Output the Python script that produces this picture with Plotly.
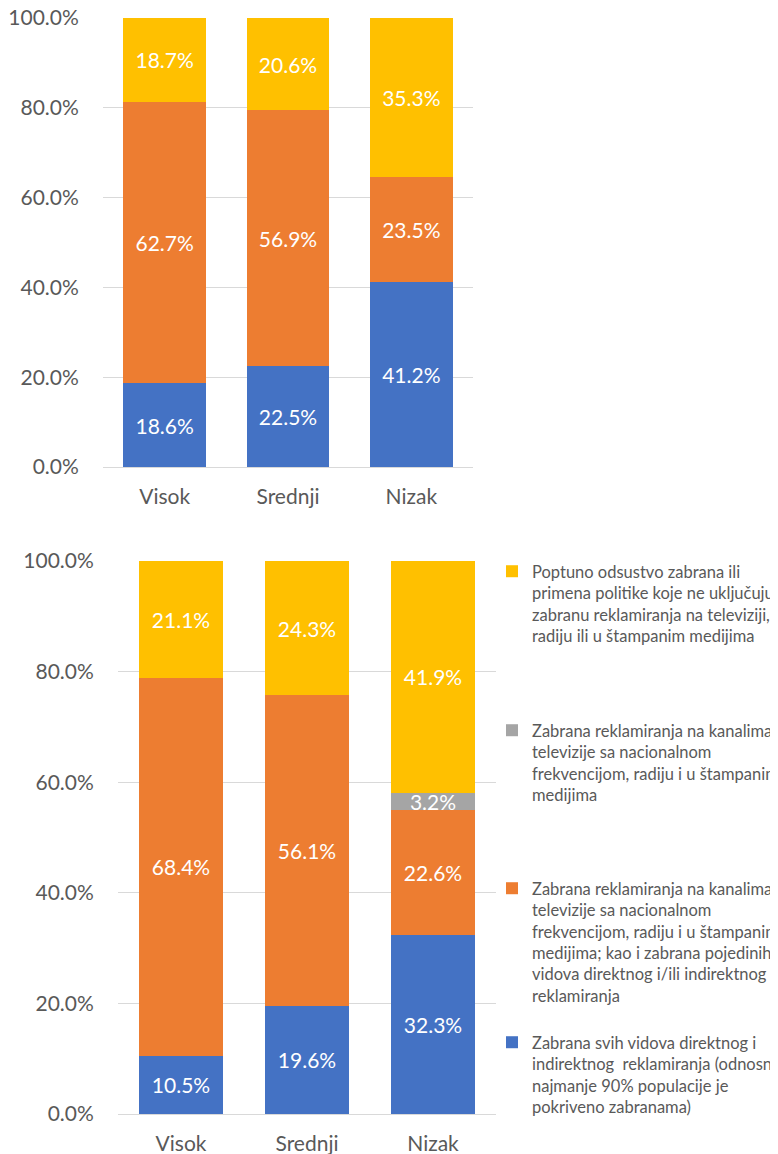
import plotly.graph_objects as go

categories = ["Visok", "Srednji", "Nizak"]

# Top chart (percent)
top_blue = [18.6, 22.5, 41.2]
top_orange = [62.7, 56.9, 23.5]
top_yellow = [18.7, 20.6, 35.3]

# Bottom chart (percent)
bot_blue = [10.5, 19.6, 32.3]
bot_orange = [68.4, 56.1, 22.6]
bot_gray = [0.0, 0.0, 3.2]
bot_yellow = [21.1, 24.3, 41.9]

names = {
    "yellow": "Poptuno odsustvo zabrana ili<br>primena politike koje ne uključuju<br>zabranu reklamiranja na televiziji,<br>radiju ili u štampanim medijima",
    "gray": "Zabrana reklamiranja na kanalima<br>televizije sa nacionalnom<br>frekvencijom, radiju i u štampanim<br>medijima",
    "orange": "Zabrana reklamiranja na kanalima<br>televizije sa nacionalnom<br>frekvencijom, radiju i u štampanim<br>medijima; kao i zabrana pojedinih<br>vidova direktnog i/ili indirektnog<br>reklamiranja",
    "blue": "Zabrana svih vidova direktnog i<br>indirektnog\u00a0 reklamiranja (odnosno<br>najmanje 90% populacije je<br>pokriveno zabranama)",
}

colors = {"blue": "#4472C4", "orange": "#ED7D31", "gray": "#A5A5A5", "yellow": "#FFC000"}

FONT = "Lato, 'Open Sans', sans-serif"
OFF = 8  # page body margin
W, H = 778 - OFF, 1154 - OFF


def labels(vals):
    return [f"{v:.1f}%" if v > 0 else "" for v in vals]


fig = go.Figure()

for key, vals in [("blue", top_blue), ("orange", top_orange), ("yellow", top_yellow)]:
    fig.add_trace(go.Bar(
        x=categories, y=[v / 100 for v in vals], name=names[key],
        marker=dict(color=colors[key], line=dict(width=0)),
        text=labels(vals), textposition="inside", insidetextanchor="middle",
        constraintext="none",
        textfont=dict(color="white", size=21, family=FONT),
        xaxis="x", yaxis="y", showlegend=False, hoverinfo="skip",
    ))

legend_map = {"yellow": "legend", "gray": "legend2", "orange": "legend3", "blue": "legend4"}
for key, vals in [("blue", bot_blue), ("orange", bot_orange), ("gray", bot_gray), ("yellow", bot_yellow)]:
    fig.add_trace(go.Bar(
        x=categories, y=[v / 100 for v in vals], name=names[key],
        marker=dict(color=colors[key], line=dict(width=0)),
        text=labels(vals), textposition="inside", insidetextanchor="middle",
        constraintext="none",
        textfont=dict(color="white", size=21, family=FONT),
        xaxis="x2", yaxis="y2", legend=legend_map[key], showlegend=True, hoverinfo="skip",
    ))

axis_font = dict(family=FONT, size=21, color="#595959")
grid = "#D9D9D9"

yax = dict(range=[0, 1], tickformat=".1%", dtick=0.2, tick0=0, showgrid=True, gridcolor=grid,
           gridwidth=1.3, zeroline=True, zerolinecolor=grid, zerolinewidth=1.3,
           ticks="outside", ticklen=19, tickcolor="rgba(0,0,0,0)", tickfont=axis_font,
           showline=False, fixedrange=True, automargin=False, ticklabeloverflow="allow")
xax = dict(showgrid=False, zeroline=False, showline=False, ticks="outside", ticklen=11,
           tickcolor="rgba(0,0,0,0)", tickfont=axis_font, fixedrange=True, automargin=False,
           ticklabeloverflow="allow")

legend_common = dict(font=dict(family=FONT, size=16.5, color="#595959"), xanchor="left", yanchor="top",
                     valign="top", bgcolor="rgba(0,0,0,0)", borderwidth=0, itemwidth=30,
                     tracegroupgap=0, itemclick=False, itemdoubleclick=False)


def px(x):
    return (x - OFF) / W


def py(y):
    return 1 - (y - OFF) / H


lx = px(492)

fig.update_layout(
    width=W, height=H, autosize=False,
    margin=dict(l=0, r=0, t=0, b=0, autoexpand=False),
    paper_bgcolor="white", plot_bgcolor="white",
    barmode="stack", bargap=0.33,
    font=dict(family=FONT, color="#595959"),
    xaxis=dict(domain=[px(103), px(473)], anchor="y", **xax),
    yaxis=dict(domain=[py(467), py(18)], anchor="x", **yax),
    xaxis2=dict(domain=[px(118), px(496)], anchor="y2", **xax),
    yaxis2=dict(domain=[py(1114), py(561)], anchor="x2", **yax),
    legend=dict(x=lx, y=py(554), **legend_common),
    legend2=dict(x=lx, y=py(713), **legend_common),
    legend3=dict(x=lx, y=py(871), **legend_common),
    legend4=dict(x=lx, y=py(1025), **legend_common),
    showlegend=True,
)

fig.write_html("out.html")
